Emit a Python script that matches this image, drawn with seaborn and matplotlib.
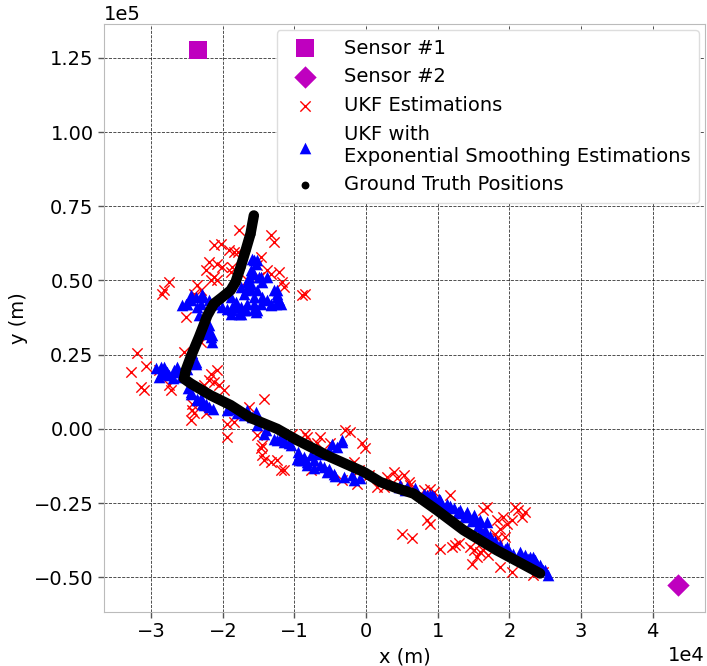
import numpy as np
import pandas as pd
import seaborn as sns
import matplotlib.pyplot as plt

# sensor positions (m)
sensor1_x, sensor1_y = [-2.34e4], [1.275e5]
sensor2_x, sensor2_y = [4.35e4], [-0.527e5]

# UKF estimations (x in 1e4 m, y in 1e5 m)
ukf_x = [-1.776, -1.334, -1.288, -2.124, -2.031, -1.915, -1.845, -1.790, -2.194, -2.240,
         -2.077, -2.007, -2.124, -2.170, -2.077, -1.891, -1.868, -1.473, -1.519, -1.380,
         -1.334, -1.218, -1.497, -1.171, -1.148, -2.751, -2.821, -2.843, -2.355, -2.309,
         -2.403, -0.892, -0.846, -2.518, -1.659,
         -3.192, -3.076, -3.285, -3.146, -3.100, -2.890, -2.751, -2.727, -2.542, -2.309,
         -2.170, -2.077, -2.124, -2.194, -2.054, -1.985, -2.263, -2.425, -2.425, -2.403,
         -2.449, -2.240, -1.427, -1.937, -1.937, -1.519, -1.449,
         -1.636, -1.845, -1.473, -1.449, -1.427, -1.334, -1.240, -1.194, -1.031, -0.846,
         -0.822, -0.637, -0.683, -0.498, -0.219, -0.288, -0.056, -0.010, -0.173, -0.103,
         -0.125, -0.334, -0.776, 0.036, -1.148,
         0.293, 0.385, 0.524, 0.594, 0.617, 0.432, 0.153, 0.245, 0.803, 0.896,
         0.942, 1.175, 0.850, 0.896, 0.502, 0.641, 1.036, 1.199, 1.245, 1.291,
         1.454, 1.500, 1.547, 1.593, 1.639, 1.477, 1.709, 1.872, 2.035, 1.639,
         1.686, 1.826, 1.918, 1.965, 1.872, 1.802, 1.826, 1.941, 2.035, 2.081,
         2.127, 2.174, 2.220, 1.639, 2.336, 2.475]
ukf_y = [0.671, 0.652, 0.629, 0.618, 0.624, 0.601, 0.596, 0.596, 0.562, 0.534,
         0.557, 0.545, 0.511, 0.500, 0.500, 0.528, 0.545, 0.579, 0.551, 0.534,
         0.523, 0.528, 0.511, 0.495, 0.478, 0.495, 0.467, 0.456, 0.484, 0.467,
         0.456, 0.450, 0.456, 0.377, 0.500,
         0.256, 0.211, 0.192, 0.141, 0.130, 0.197, 0.147, 0.130, 0.259, 0.293,
         0.186, 0.197, 0.158, 0.164, 0.147, 0.130, 0.147, 0.085, 0.063, 0.052,
         0.029, 0.052, 0.102, 0.018, -0.027, -0.022, -0.055,
         0.074, 0.023, -0.066, -0.089, -0.106, -0.111, -0.106, -0.139, -0.016, -0.016,
         -0.027, -0.027, -0.049, -0.049, -0.010, -0.005, -0.049, -0.066, -0.111, -0.139,
         -0.184, -0.173, -0.139, -0.156, -0.139,
         -0.162, -0.145, -0.156, -0.179, -0.190, -0.167, -0.196, -0.196, -0.207, -0.201,
         -0.212, -0.224, -0.308, -0.319, -0.353, -0.369, -0.403, -0.398, -0.392, -0.386,
         -0.398, -0.409, -0.431, -0.414, -0.409, -0.454, -0.426, -0.465, -0.482, -0.274,
         -0.263, -0.308, -0.297, -0.319, -0.336, -0.353, -0.369, -0.364, -0.308, -0.263,
         -0.274, -0.297, -0.280, -0.341, -0.493, -0.482]

# UKF + exponential smoothing (x in 1e4 m, y in 1e5 m)
smooth_x = [-1.589, -1.543, -1.567, -1.613, -1.636, -1.473, -1.449, -1.497, -1.752, -1.682,
            -1.613, -1.519, -1.567, -1.659, -1.891, -1.822, -1.868, -1.752, -1.449, -1.380,
            -1.473, -1.334, -1.240, -1.218, -1.264, -1.240, -1.194, -1.659, -1.682, -1.567,
            -1.776, -1.567, -1.543, -1.519, -1.752, -1.868, -2.518, -2.449, -2.379, -2.286,
            -2.309, -2.194, -2.100, -2.007, -1.937, -2.495, -2.564, -2.333, -2.194,
            -2.449, -2.286, -2.355, -2.170, -1.798, -1.706, -1.613, -1.519, -1.567, -1.380,
            -1.288, -1.240, -1.334, -1.891, -1.706,
            -2.216, -2.170, -2.146, -2.194, -2.146, -2.449, -2.379, -2.425, -2.379,
            -2.821, -2.773, -2.867, -2.634, -2.588, -2.495, -2.867, -2.751, -2.890, -2.681,
            -2.634, -2.796, -2.699, -2.937, -2.491,
            -2.449, -2.355, -2.286, -2.194, -2.449, -2.355, -2.263, -1.891, -1.659, -1.543,
            -1.937, -1.798, -1.589, -1.519, -1.706, -1.403, -1.427, -1.194, -1.240, -1.288,
            -1.148, -1.079, -2.309, -2.240, -2.142, -1.148, -1.055, -0.957,
            -0.939, -0.892, -0.822, -0.730, -0.637, -0.521, -0.452, -0.521, -0.404, -0.334,
            -0.637, -0.312, -0.173, -0.079, -0.962, -0.870, -0.591, -0.334, -0.521, -0.195,
            -0.916, -0.818, -0.734, -0.539, -0.428, -0.776, -0.665, -0.470,
            0.454, 0.548, 0.478, 0.571, 0.850, 0.942, 1.036, 1.129, 1.221, 0.803,
            0.920, 1.012, 1.129, 1.314, 1.408, 1.500, 1.314, 1.408, 1.500, 1.593,
            1.593, 1.686, 1.593, 1.663, 1.965, 2.057, 1.941, 2.290, 2.383, 2.475,
            2.266, 2.336, 2.429, 2.499, 2.545,
            0.687, 0.896, 1.036, 1.175, 1.286, 1.384, 1.482, 1.565, 1.663, 1.732,
            1.802, 1.872, 2.150, 2.220, 2.359]
smooth_y = [0.573, 0.557, 0.568, 0.534, 0.511, 0.511, 0.495, 0.511, 0.478, 0.467,
            0.472, 0.467, 0.444, 0.495, 0.444, 0.427, 0.410, 0.410, 0.444, 0.433,
            0.422, 0.416, 0.467, 0.433, 0.422, 0.444, 0.422, 0.422, 0.399, 0.405,
            0.388, 0.422, 0.394, 0.399, 0.388, 0.399, 0.422, 0.433, 0.444, 0.444,
            0.422, 0.433, 0.422, 0.410, 0.405, 0.422, 0.416, 0.382, 0.349,
            0.450, 0.456, 0.410, 0.422, 0.410, 0.456, 0.489, 0.568, 0.523, 0.511,
            0.467, 0.456, 0.422, 0.388, 0.399,
            0.321, 0.309, 0.293, 0.332, 0.315, 0.254, 0.220, 0.254, 0.225,
            0.208, 0.192, 0.186, 0.192, 0.175, 0.203, 0.208, 0.180, 0.175, 0.197,
            0.208, 0.190, 0.170, 0.204, 0.137,
            0.124, 0.102, 0.085, 0.074, 0.119, 0.096, 0.079, 0.068, 0.063, 0.057,
            0.063, 0.052, 0.040, 0.012, 0.046, -0.005, -0.016, -0.027, -0.038, -0.033,
            -0.038, -0.049, 0.103, 0.083, 0.066, -0.044, -0.055, -0.079,
            -0.095, -0.106, -0.111, -0.106, -0.123, -0.134, -0.151, -0.083, -0.061, -0.038,
            -0.083, -0.162, -0.173, -0.167, -0.100, -0.095, -0.128, -0.044, -0.072, -0.156,
            -0.106, -0.123, -0.133, -0.146, -0.160, -0.089, -0.079, -0.052,
            -0.196, -0.207, -0.190, -0.196, -0.224, -0.229, -0.252, -0.263, -0.268, -0.218,
            -0.224, -0.235, -0.252, -0.274, -0.280, -0.291, -0.285, -0.297, -0.302, -0.308,
            -0.313, -0.313, -0.347, -0.364, -0.398, -0.420, -0.403, -0.431, -0.454, -0.476,
            -0.437, -0.431, -0.459, -0.476, -0.493,
            -0.200, -0.224, -0.240, -0.260, -0.281, -0.294, -0.311, -0.328, -0.341, -0.362,
            -0.378, -0.392, -0.416, -0.426, -0.442]

# ground truth trajectory (x in 1e4 m, y in 1e5 m)
gt_x = [-1.567, -1.613, -1.682, -1.752, -1.822, -1.891, -2.007, -2.124, -2.216, -2.286,
        -2.333, -2.449, -2.518, -2.542, -2.449, -2.170, -1.891, -1.613, -1.240, -0.962,
        -0.498, -0.033, 0.199, 0.432, 0.663, 0.990, 1.360, 1.826, 2.429]
gt_y = [0.719, 0.658, 0.601, 0.545, 0.495, 0.467, 0.444, 0.422, 0.382, 0.338,
        0.309, 0.242, 0.197, 0.169, 0.153, 0.113, 0.080, 0.037, 0.000, -0.038,
        -0.095, -0.145, -0.179, -0.200, -0.218, -0.274, -0.341, -0.409, -0.487]

ukf = pd.DataFrame({"x": np.array(ukf_x) * 1e4, "y": np.array(ukf_y) * 1e5})
smooth = pd.DataFrame({"x": np.array(smooth_x) * 1e4, "y": np.array(smooth_y) * 1e5})
gt = pd.DataFrame({"x": np.array(gt_x) * 1e4, "y": np.array(gt_y) * 1e5})

sns.set_style("white")
plt.rcParams["font.family"] = ["DejaVu Sans"]
plt.rcParams["font.size"] = 14
for key in ["text.color", "axes.labelcolor", "xtick.color", "ytick.color"]:
    plt.rcParams[key] = "black"

fig, ax = plt.subplots(figsize=(7.07, 6.66), dpi=100)
fig.subplots_adjust(left=0.147, right=0.997, top=0.964, bottom=0.081)

sns.scatterplot(x=sensor1_x, y=sensor1_y, marker="s", s=150, color="m", linewidth=0,
                label="Sensor #1", ax=ax)
sns.scatterplot(x=sensor2_x, y=sensor2_y, marker="D", s=130, color="m", linewidth=0,
                label="Sensor #2", ax=ax)
sns.scatterplot(data=ukf, x="x", y="y", marker="x", s=55, color="red", linewidth=1,
                label="UKF Estimations", ax=ax)
sns.scatterplot(data=smooth, x="x", y="y", marker="^", s=70, color="blue", linewidth=0,
                label="UKF with\nExponential Smoothing Estimations", ax=ax)
sns.lineplot(data=gt, x="x", y="y", sort=False, estimator=None, color="black",
             linewidth=7.5, solid_capstyle="round", solid_joinstyle="round",
             legend=False, ax=ax)
sns.scatterplot(data=gt, x="x", y="y", marker="o", s=32, color="black", linewidth=0,
                label="Ground Truth Positions", ax=ax)

ax.set_xlim(-3.66e4, 4.73e4)
ax.set_ylim(-0.617e5, 1.364e5)
ax.set_xticks(np.arange(-3, 5) * 1e4)
ax.set_yticks(np.arange(-0.5, 1.26, 0.25) * 1e5)
ax.ticklabel_format(style="sci", scilimits=(0, 0))
ax.tick_params(axis="both", labelsize=14, direction="out", length=4, width=1,
               color="#555555", bottom=True, left=True)
ax.grid(True, color="black", linestyle="--", linewidth=0.6, alpha=0.8)
ax.set_axisbelow(True)
for s in ax.spines.values():
    s.set_color("#bbbbbb")
ax.xaxis.get_offset_text().set_fontsize(14)
ax.yaxis.get_offset_text().set_fontsize(14)

ax.set_xlabel("x (m)", fontsize=14)
ax.set_ylabel("y (m)", fontsize=14)

ax.legend(loc="upper right", fontsize=14, frameon=True, framealpha=1,
          edgecolor="#dddddd", borderpad=0.45, labelspacing=0.5, handletextpad=1.0,
          borderaxespad=0.3)

plt.savefig("out.png", dpi=100)
